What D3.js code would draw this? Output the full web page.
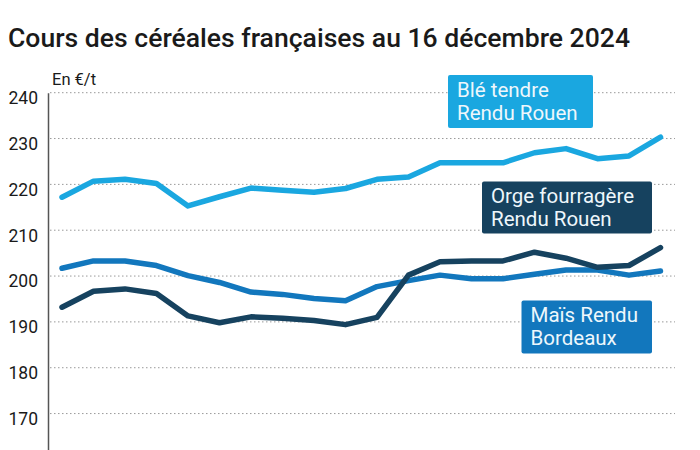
<!DOCTYPE html>
<html>
<head>
<meta charset="utf-8">
<script src="https://cdn.jsdelivr.net/npm/d3@7"></script>
<style>
  body { margin: 0; background: #fff; }
  svg { font-family: Roboto, "Noto Sans", sans-serif; }
</style>
</head>
<body>
<div id="chart"></div>
<script>
// relevés hebdomadaires, €/t
const ble = [217.2, 220.7, 221.1, 220.2, 215.3, 217.3, 219.2, 218.7, 218.3, 219.1,
             221.1, 221.6, 224.7, 224.7, 224.7, 226.9, 227.8, 225.6, 226.2, 230.3];
const mais = [201.7, 203.3, 203.3, 202.3, 200.1, 198.6, 196.5, 196.0, 195.1, 194.6,
              197.7, 199.0, 200.2, 199.4, 199.4, 200.4, 201.3, 201.3, 200.2, 201.1];
const orge = [193.2, 196.7, 197.2, 196.2, 191.3, 189.8, 191.1, 190.8, 190.3, 189.4,
              191.0, 200.2, 203.1, 203.3, 203.3, 205.2, 203.9, 201.9, 202.3, 206.2];
const yTicks = [170, 180, 190, 200, 210, 220, 230, 240];

const width = 700;
const height = 450;

const svg = d3.select('#chart')
  .append('svg')
  .attr('width', width)
  .attr('height', height);

const x = d3.scaleLinear()
  .domain([0, ble.length - 1])
  .range([62, 660.5]);

const y = d3.scaleLinear()
  .domain([160, 240])
  .range([459.4, 92.7]);

svg.append('text')
  .attr('x', 8)
  .attr('y', 46.5)
  .attr('font-size', '25.5px')
  .attr('font-weight', 500)
  .attr('fill', '#1a1a1a')
  .attr('textLength', 622)
  .attr('lengthAdjust', 'spacingAndGlyphs')
  .text('Cours des céréales françaises au 16 décembre 2024');

svg.append('text')
  .attr('x', 52)
  .attr('y', 84.5)
  .attr('font-size', '16.5px')
  .attr('fill', '#1a1a1a')
  .text('En €/t');

// grille pointillée
svg.append('g')
  .selectAll('line')
  .data(yTicks)
  .join('line')
    .attr('x1', 50)
    .attr('x2', 675)
    .attr('y1', d => y(d))
    .attr('y2', d => y(d))
    .attr('stroke', '#999')
    .attr('stroke-width', 1)
    .attr('stroke-dasharray', '1.5,2.5');

function yAxis(g) {
  g.attr('transform', 'translate(48,0)')
    .call(d3.axisLeft(y).tickValues(yTicks).tickSize(0).tickPadding(10))
    .call(g => g.select('.domain').attr('stroke', '#555').attr('stroke-width', 1.5))
    .call(g => g.selectAll('text')
      .attr('font-size', '17.5px')
      .attr('font-family', 'Roboto, sans-serif')
      .attr('fill', '#1a1a1a')
      .attr('dy', '0.62em'));
}
svg.append('g').call(yAxis);

const line = d3.line()
  .x((d, i) => x(i))
  .y(d => y(d));

const series = [
  {values: ble, color: '#1aa7e0'},
  {values: mais, color: '#1277bd'},
  {values: orge, color: '#16425f'},
];

svg.append('g')
  .selectAll('path')
  .data(series)
  .join('path')
    .attr('d', d => line(d.values))
    .attr('fill', 'none')
    .attr('stroke', d => d.color)
    .attr('stroke-width', 5.5)
    .attr('stroke-linejoin', 'round')
    .attr('stroke-linecap', 'round');

// étiquettes
const labels = [
  {lines: ['Blé tendre', 'Rendu Rouen'], color: '#1aa7e0', x: 448, y: 75, w: 145, h: 53},
  {lines: ['Orge fourragère', 'Rendu Rouen'], color: '#16425f', x: 482, y: 181.5, w: 170, h: 52},
  {lines: ['Maïs Rendu', 'Bordeaux'], color: '#1277bd', x: 521.5, y: 300.5, w: 130.5, h: 53},
];

const lab = svg.append('g')
  .selectAll('g')
  .data(labels)
  .join('g')
    .attr('transform', d => `translate(${d.x},${d.y})`);

lab.append('rect')
  .attr('width', d => d.w)
  .attr('height', d => d.h)
  .attr('rx', 2)
  .attr('fill', d => d.color);

lab.append('text')
  .attr('font-size', '20.5px')
  .attr('fill', '#eef7fc')
  .selectAll('tspan')
  .data(d => d.lines)
  .join('tspan')
    .attr('x', 9)
    .attr('y', (d, i) => 21.5 + i * 23)
    .text(d => d);
</script>
</body>
</html>
